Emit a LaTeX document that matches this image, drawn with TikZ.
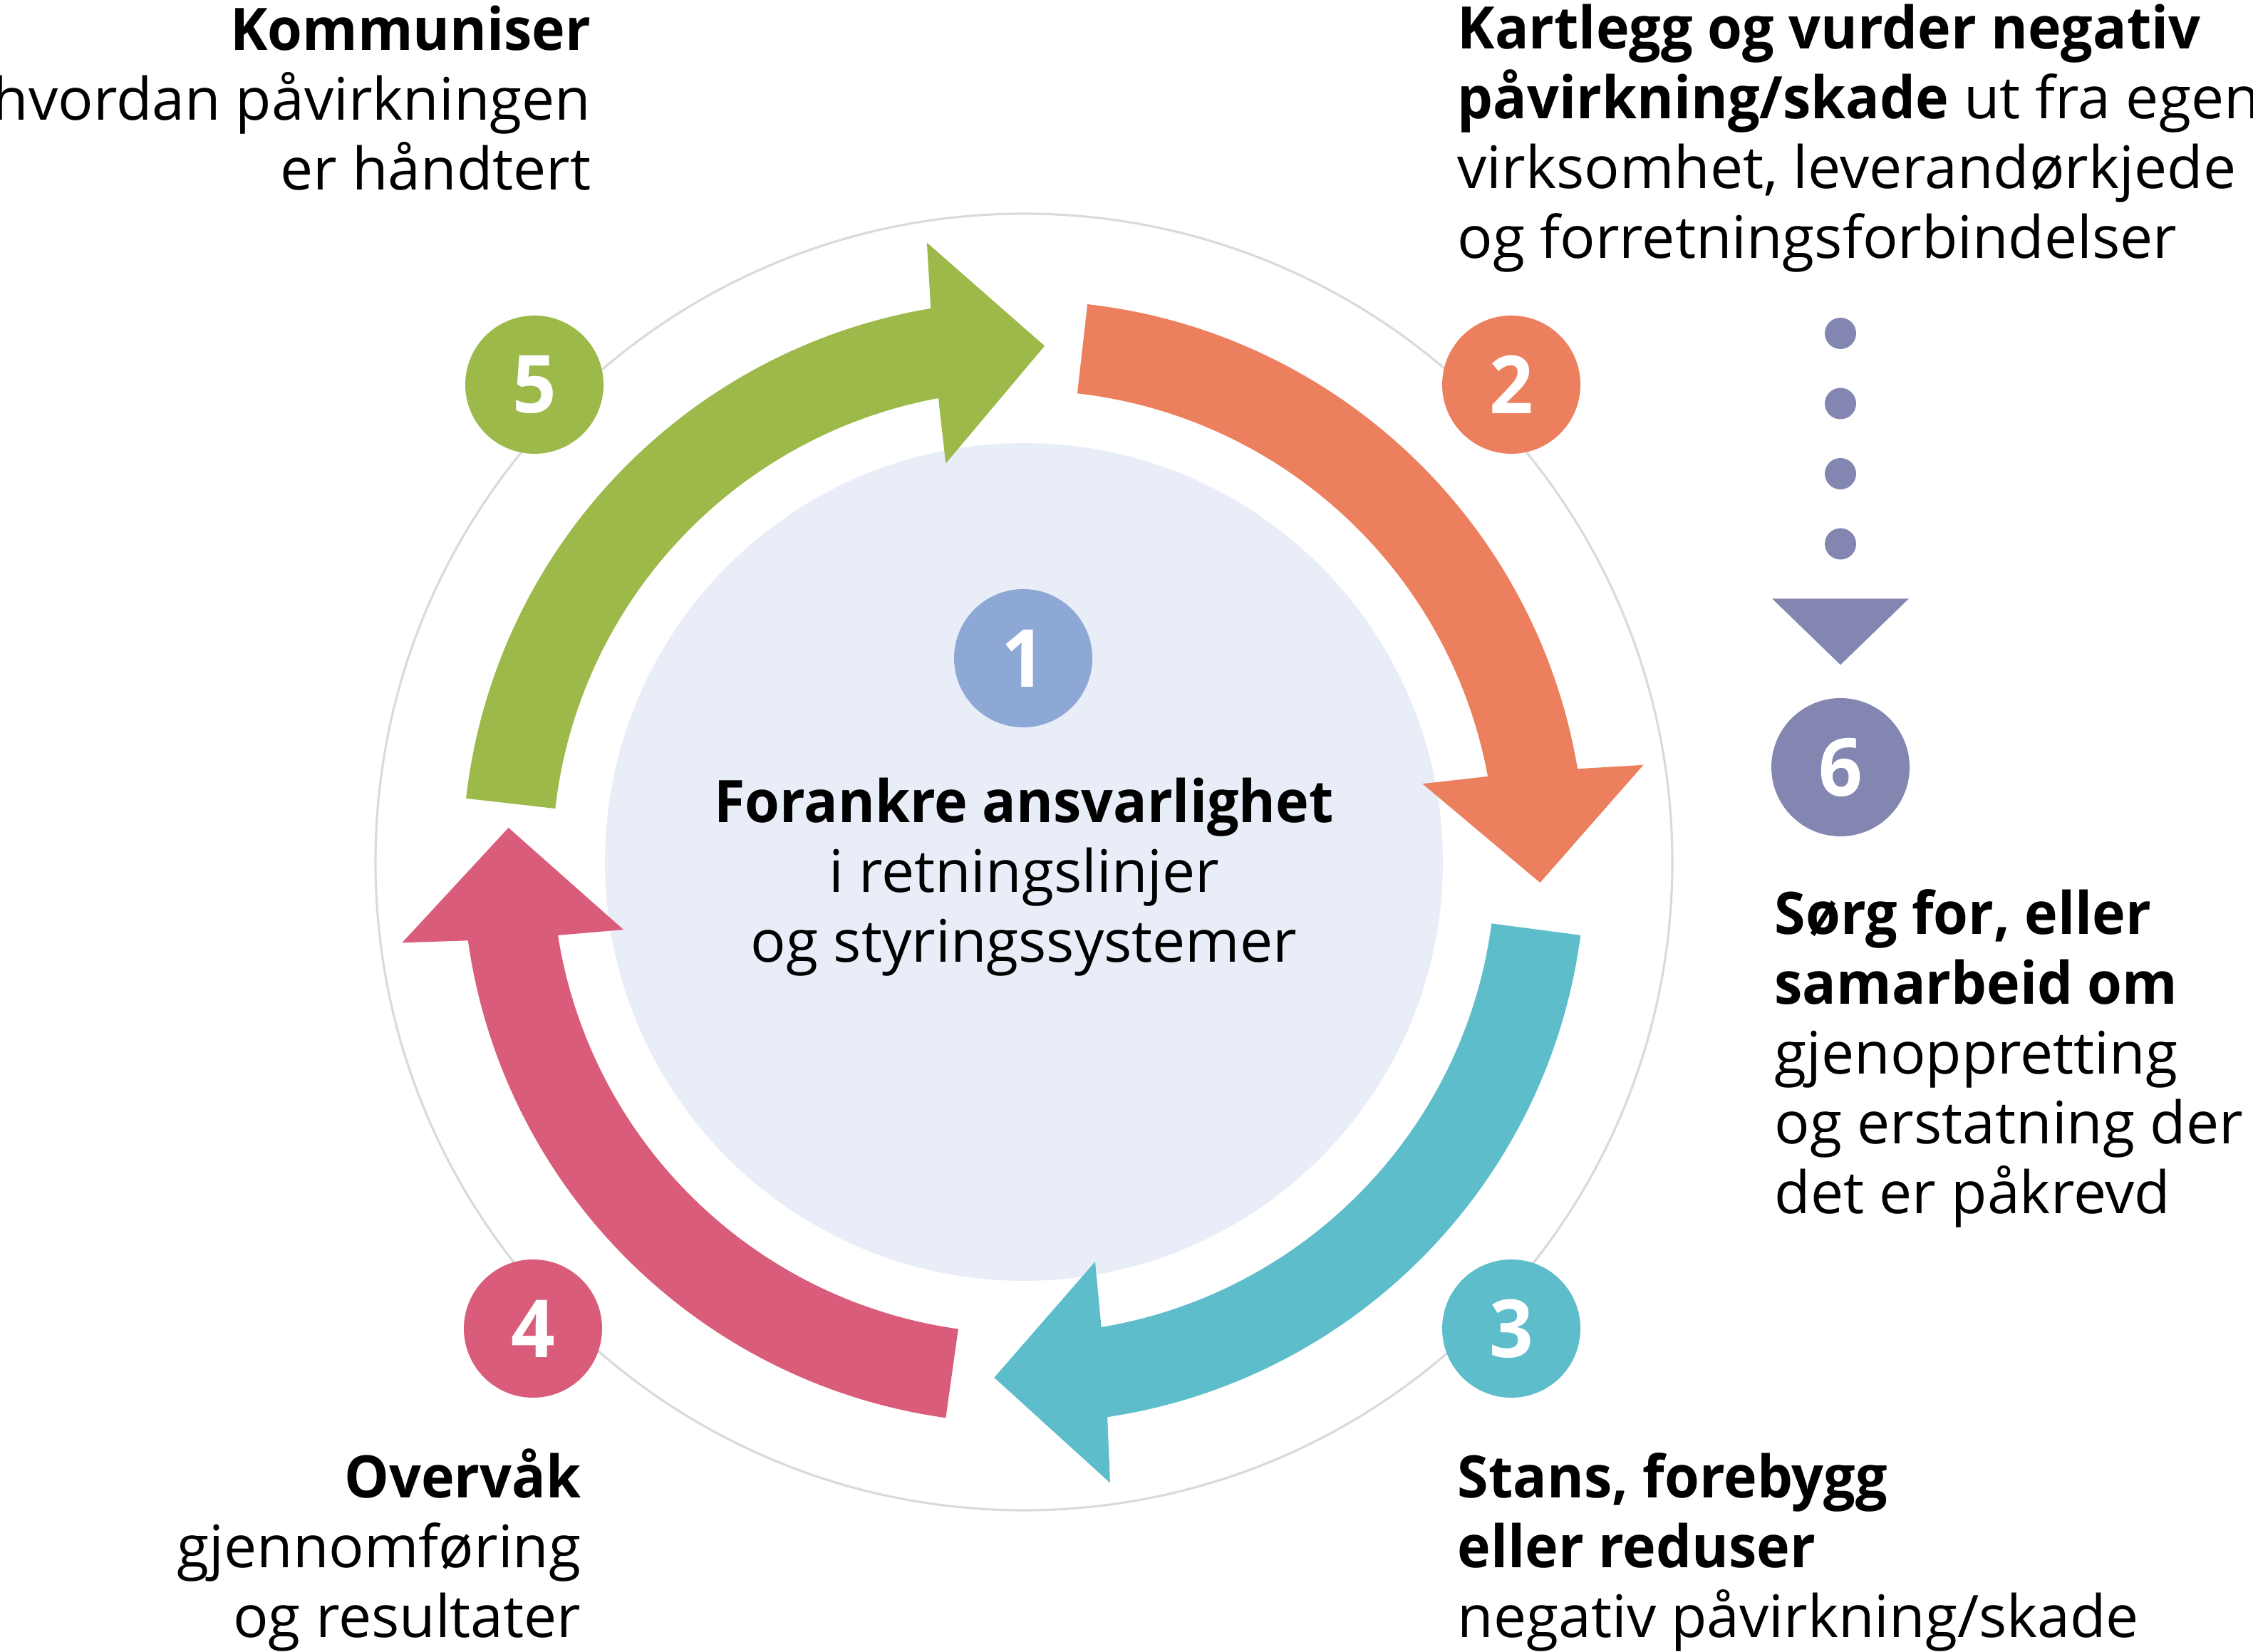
\documentclass[tikz,border=0pt]{standalone}
\usepackage{fontspec}
\setmainfont{Open Sans}[BoldFeatures={FakeStretch=0.96}]
\usetikzlibrary{calc,positioning}

\definecolor{cgreen}{HTML}{9DB94A}
\definecolor{corange}{HTML}{EC7F5D}
\definecolor{cteal}{HTML}{5EBDCA}
\definecolor{cpink}{HTML}{D95D7A}
\definecolor{cblue}{HTML}{8EA8D6}
\definecolor{cpurple}{HTML}{8486B2}
\definecolor{clight}{HTML}{E8EDF8}
\definecolor{cgrey}{HTML}{DADADA}

\tikzset{
  numdot/.style={circle, fill=#1, minimum size=1.94cm, inner sep=0pt,
    text=white, font=\fontsize{32}{32}\selectfont\bfseries},
  lbl/.style={inner sep=0pt, font=\fontsize{23.4}{27.9}\selectfont},
}

% one arrow of the cycle: start angle, colour
\newcommand{\cyclearrow}[2]{%
  \fill[#2] (#1:7.88) arc[start angle=#1, end angle=#1-73.95, radius=7.88]
    -- (#1-74.6:8.80) -- (#1-85.8:7.25) -- (#1-72.4:5.70)
    -- (#1-73.05:6.62) arc[start angle=#1-73.05, end angle=#1, radius=6.62]
    -- cycle;}

\begin{document}
\begin{tikzpicture}
\useasboundingbox (0,0) rectangle (31.62,23.19);
\coordinate (c) at (14.37,11.09);
\draw[cgrey, line width=0.9pt] (c) circle (9.10);
\fill[clight] (c) circle (5.88);
\begin{scope}[shift={(c)}]
\cyclearrow{173.5}{cgreen}
\cyclearrow{83.5}{corange}
\cyclearrow{-7.5}{cteal}
\cyclearrow{-98}{cpink}
\end{scope}

\node[numdot=cblue] (n1) at (14.36,13.95) {1};
\node[numdot=corange] (n2) at (21.21,17.79) {2};
\node[numdot=cteal] (n3) at (21.21,4.54) {3};
\node[numdot=cpink] (n4) at (7.48,4.54) {4};
\node[numdot=cgreen] (n5) at (7.50,17.79) {5};
\node[numdot=cpurple] (n6) at (25.83,12.42) {6};

% dots and head down to 6
\foreach \k in {0,...,3}
  \fill[cpurple] (25.83,18.51-0.985*\k) circle (0.22);
\fill[cpurple] ($(n6.north)+(-0.96,1.39)$) -- ($(n6.north)+(0.96,1.39)$)
  -- ($(n6.north)+(0,0.46)$) -- cycle;

% texts, placed at the baseline of their last line
\node[lbl, anchor=base east, align=right] (t5) at (8.30,20.52)
  {\textbf{Kommuniser}\\hvordan påvirkningen\\er håndtert};
\node[lbl, anchor=base west, align=left] (t2) at (20.45,19.56)
  {\textbf{Kartlegg og vurder negativ}\\\textbf{påvirkning/skade} ut fra egen\\virksomhet, leverandørkjede\\og forretningsforbindelser};
\node[lbl, anchor=base, align=center] (t1) at (14.37,9.68)
  {\textbf{Forankre ansvarlighet}\\i retningslinjer\\og styringssystemer};
\node[lbl, anchor=base west, align=left] (t6) at (24.90,6.15)
  {\textbf{Sørg for, eller}\\\textbf{samarbeid om}\\gjenoppretting\\og erstatning der\\det er påkrevd};
\node[lbl, anchor=base east, align=right] (t4) at (8.16,0.20)
  {\textbf{Overvåk}\\gjennomføring\\og resultater};
\node[lbl, anchor=base west, align=left] (t3) at (20.45,0.20)
  {\textbf{Stans, forebygg}\\\textbf{eller reduser}\\negativ påvirkning/skade};
\end{tikzpicture}
\end{document}
